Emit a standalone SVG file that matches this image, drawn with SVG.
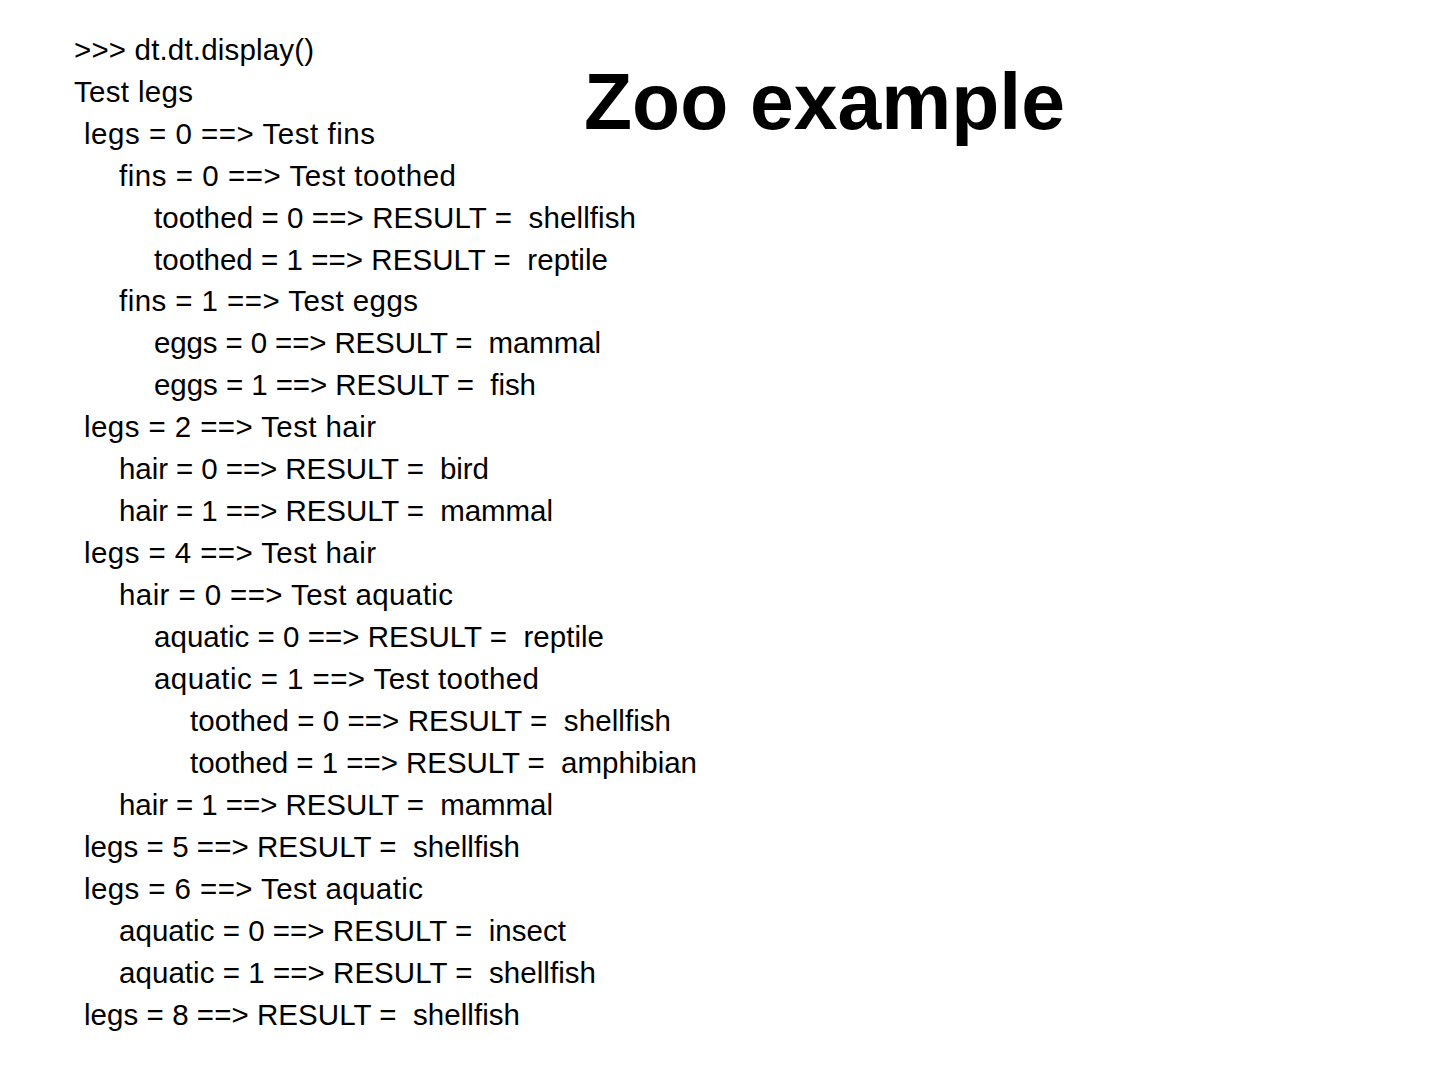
<svg xmlns="http://www.w3.org/2000/svg" width="1440" height="1080" viewBox="0 0 1440 1080">
<style>
.t{font-family:"Liberation Sans",Arial,sans-serif;font-size:29.5px;fill:#000;white-space:pre}
.h{font-family:"Liberation Sans",Arial,sans-serif;font-size:80px;font-weight:bold;fill:#000}
</style>
<rect width="1440" height="1080" fill="#fff"/>
<text class="h" x="584" y="129" textLength="481" lengthAdjust="spacingAndGlyphs">Zoo example</text>
<g id="output" xml:space="preserve">
<text class="t" x="74" y="60" textLength="240">&gt;&gt;&gt; dt.dt.display()</text>
<text class="t" x="74" y="102" textLength="119">Test legs</text>
<text class="t" x="84" y="144" textLength="291">legs = 0 ==&gt; Test fins</text>
<text class="t" x="119" y="186" textLength="337">fins = 0 ==&gt; Test toothed</text>
<text class="t" x="154" y="228" textLength="482">toothed = 0 ==&gt; RESULT =  shellfish</text>
<text class="t" x="154" y="270" textLength="454">toothed = 1 ==&gt; RESULT =  reptile</text>
<text class="t" x="119" y="311" textLength="299">fins = 1 ==&gt; Test eggs</text>
<text class="t" x="154" y="353" textLength="447">eggs = 0 ==&gt; RESULT =  mammal</text>
<text class="t" x="154" y="395" textLength="382">eggs = 1 ==&gt; RESULT =  fish</text>
<text class="t" x="84" y="437" textLength="292">legs = 2 ==&gt; Test hair</text>
<text class="t" x="119" y="479" textLength="370">hair = 0 ==&gt; RESULT =  bird</text>
<text class="t" x="119" y="521" textLength="434">hair = 1 ==&gt; RESULT =  mammal</text>
<text class="t" x="84" y="563" textLength="292">legs = 4 ==&gt; Test hair</text>
<text class="t" x="119" y="605" textLength="334">hair = 0 ==&gt; Test aquatic</text>
<text class="t" x="154" y="647" textLength="450">aquatic = 0 ==&gt; RESULT =  reptile</text>
<text class="t" x="154" y="689" textLength="385">aquatic = 1 ==&gt; Test toothed</text>
<text class="t" x="190" y="731" textLength="481">toothed = 0 ==&gt; RESULT =  shellfish</text>
<text class="t" x="190" y="773" textLength="507">toothed = 1 ==&gt; RESULT =  amphibian</text>
<text class="t" x="119" y="815" textLength="434">hair = 1 ==&gt; RESULT =  mammal</text>
<text class="t" x="84" y="857" textLength="436">legs = 5 ==&gt; RESULT =  shellfish</text>
<text class="t" x="84" y="899" textLength="339">legs = 6 ==&gt; Test aquatic</text>
<text class="t" x="119" y="941" textLength="447">aquatic = 0 ==&gt; RESULT =  insect</text>
<text class="t" x="119" y="983" textLength="477">aquatic = 1 ==&gt; RESULT =  shellfish</text>
<text class="t" x="84" y="1025" textLength="436">legs = 8 ==&gt; RESULT =  shellfish</text>
</g>
</svg>
